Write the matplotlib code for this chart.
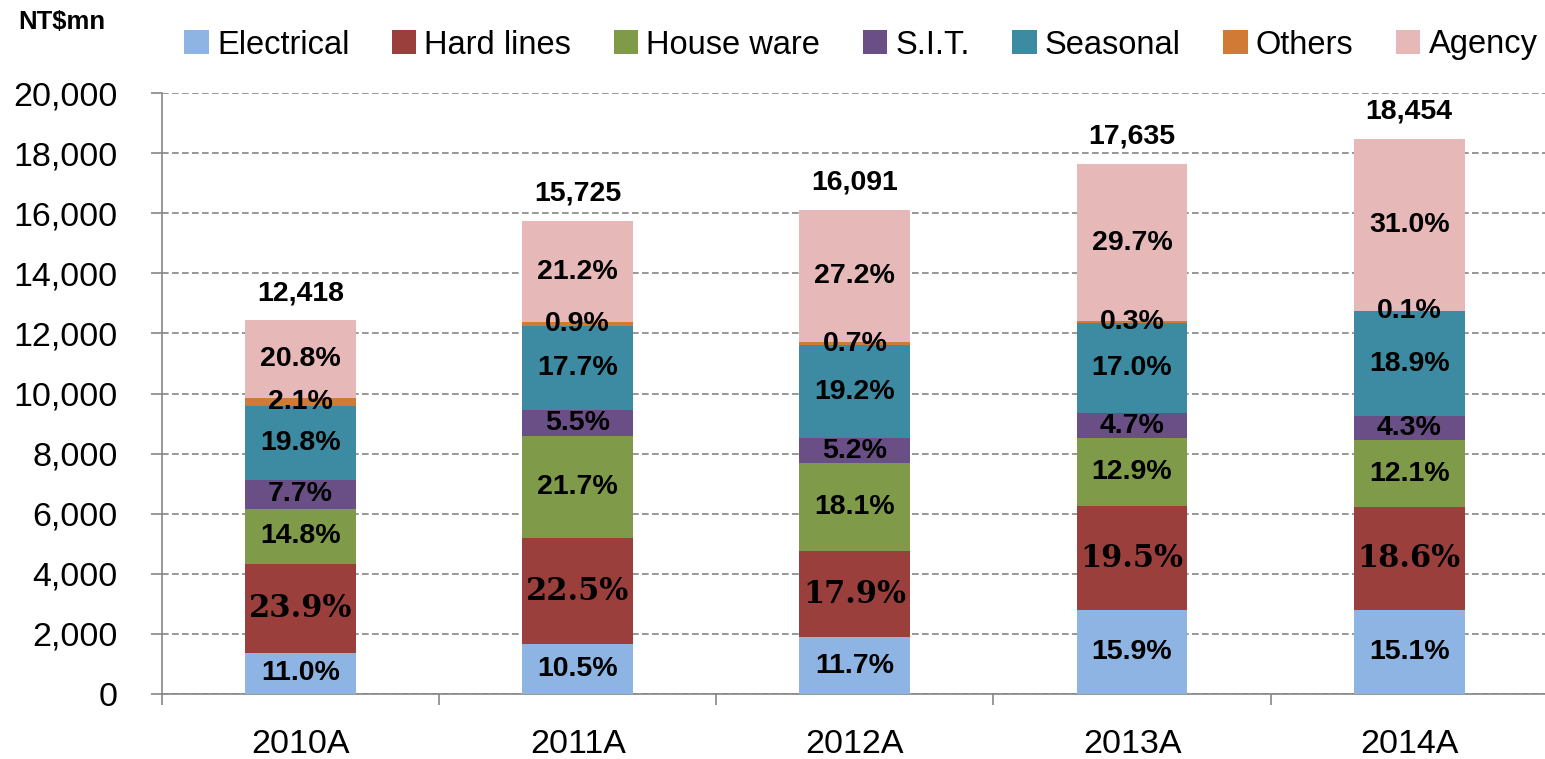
import matplotlib
matplotlib.use("Agg")
import matplotlib.pyplot as plt
import numpy as np
from matplotlib.ticker import FuncFormatter, FixedLocator

years = ["2010A", "2011A", "2012A", "2013A", "2014A"]
totals = [12418, 15725, 16091, 17635, 18454]

segments = ["Electrical", "Hard lines", "House ware", "S.I.T.", "Seasonal", "Others", "Agency"]
electrical = [11.0, 10.5, 11.7, 15.9, 15.1]
hard_lines = [23.9, 22.5, 17.9, 19.5, 18.6]
house_ware = [14.8, 21.7, 18.1, 12.9, 12.1]
sit = [7.7, 5.5, 5.2, 4.7, 4.3]
seasonal = [19.8, 17.7, 19.2, 17.0, 18.9]
others = [2.1, 0.9, 0.7, 0.3, 0.1]
agency = [20.8, 21.2, 27.2, 29.7, 31.0]
shares = [electrical, hard_lines, house_ware, sit, seasonal, others, agency]

colors = ["#8EB4E3", "#9B3F3D", "#7F9A48", "#6A4F87", "#3C8BA3", "#D07A36", "#E6B9B8"]

plt.rcParams["font.family"] = ["Liberation Sans", "DejaVu Sans"]

fig = plt.figure(figsize=(15.45, 7.59), dpi=100)
ax = fig.add_axes([162 / 1545, 1 - 694 / 759, (1545 - 162) / 1545, (694 - 93) / 759])

x = np.arange(len(years))
tot = np.array(totals, dtype=float)
bottom = np.zeros(len(years))
for name, pct, col in zip(segments, shares, colors):
    vals = tot * np.array(pct) / 100.0
    ax.bar(x, vals, 0.4, bottom=bottom, color=col, label=name, linewidth=0, zorder=3)
    for xi, b, v, p in zip(x, bottom, vals, pct):
        if name == "Hard lines":
            # these labels use a serif face in the original
            ax.text(xi, b + v / 2, f"{p:.1f}%", ha="center", va="center",
                    fontsize=22, fontweight="bold", family="DejaVu Serif", zorder=4)
        else:
            ax.text(xi, b + v / 2, f"{p:.1f}%", ha="center", va="center",
                    fontsize=20.5, fontweight="bold", zorder=4)
    bottom += vals

for xi, t in zip(x, totals):
    ax.annotate(f"{t:,}", (xi, t), xytext=(0, 20), textcoords="offset points",
                ha="center", va="center", fontsize=20.5, fontweight="bold")

ax.set_xlim(-0.5, 4.49)
ax.set_ylim(0, 20000)
ax.set_yticks(np.arange(0, 20001, 2000))
ax.yaxis.set_major_formatter(FuncFormatter(lambda v, _: f"{int(v):,}"))
ax.set_xticks(x)
ax.set_xticklabels(years)
ax.xaxis.set_minor_locator(FixedLocator(np.arange(-0.5, 4.6, 1.0)))

ax.tick_params(axis="y", length=8, width=1.2, color="#868686", pad=24, labelsize=24.5)
ax.tick_params(axis="x", which="major", length=0, pad=25, labelsize=24.5)
ax.tick_params(axis="x", which="minor", length=8, width=1.2, color="#868686", direction="out")

ax.grid(axis="y", color="#868686", linestyle=(0, (4, 2)), linewidth=1.2, zorder=0)
ax.set_axisbelow(True)
for s in ["top", "right"]:
    ax.spines[s].set_visible(False)
for s in ["left", "bottom"]:
    ax.spines[s].set_color("#868686")
    ax.spines[s].set_linewidth(1.2)

fig.text(18 / 1545, 1 - 22 / 759, "NT$mn", ha="left", va="center", fontsize=18.5, fontweight="bold")

fig.legend(loc="center", bbox_to_anchor=(861 / 1545, 1 - 45 / 759), ncol=7, frameon=False,
           fontsize=23.5, handlelength=0.75, handleheight=0.75, handletextpad=0.25,
           columnspacing=1.3, borderaxespad=0, borderpad=0)

fig.savefig("out.png", dpi=100)
